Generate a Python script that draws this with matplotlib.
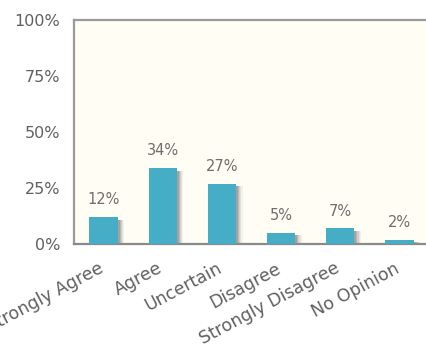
import matplotlib
matplotlib.use('Agg')
import matplotlib.pyplot as plt
import matplotlib.transforms as mtransforms
import numpy as np

categories = ['Strongly Agree', 'Agree', 'Uncertain', 'Disagree',
              'Strongly Disagree', 'No Opinion']
percent = [12, 34, 27, 5, 7, 2]
y_ticks = [0, 25, 50, 75, 100]

BAR_COLOR = '#45adc6'
TEXT_COLOR = '#606060'
FRAME_COLOR = '#9a9a9a'

fig = plt.figure(figsize=(4.26, 3.47), dpi=100)
ax = fig.add_axes([74 / 426, 103 / 347, 1 - 74 / 426, 224 / 347])
ax.set_facecolor('#fffdf4')

x = np.arange(len(categories))
width = 0.48

# soft drop shadow on the right side of each bar, stacked for a blur look
for off, alpha in [(0.11, 0.06), (0.09, 0.09), (0.07, 0.12),
                   (0.05, 0.16), (0.03, 0.20)]:
    ax.bar(x + off, [max(v - 1.2, 0) for v in percent], width=width,
           color='#4a4a4a', alpha=alpha, linewidth=0, zorder=2)
ax.bar(x, percent, width=width, color=BAR_COLOR, linewidth=0, zorder=3)

for xi, v in zip(x, percent):
    ax.text(xi, v + 4.3, f'{v}%', ha='center', va='bottom',
            fontsize=10.5, color='#6e6e6e', zorder=4)

ax.set_xlim(-0.5, 5.45)
ax.set_ylim(0, 100)
ax.set_yticks(y_ticks)
ax.set_yticklabels([f'{t}%' for t in y_ticks], fontsize=11.5)
ax.set_xticks(x)
ax.set_xticklabels(categories, rotation=28, ha='right',
                   rotation_mode='anchor', fontsize=12.5)
ax.tick_params(axis='both', length=0, colors=TEXT_COLOR)
ax.tick_params(axis='y', pad=10)
ax.tick_params(axis='x', pad=11)

# nudge the slanted category labels a little to the left
nudge = mtransforms.ScaledTranslation(-4 / 72, 0, fig.dpi_scale_trans)
for lbl in ax.get_xticklabels():
    lbl.set_transform(lbl.get_transform() + nudge)

for side in ['left', 'top']:
    ax.spines[side].set_color(FRAME_COLOR)
    ax.spines[side].set_linewidth(1.6)
ax.spines['bottom'].set_color('#8a8a8a')
ax.spines['bottom'].set_linewidth(1.6)
ax.spines['right'].set_visible(False)

fig.savefig('out.png', dpi=100)
